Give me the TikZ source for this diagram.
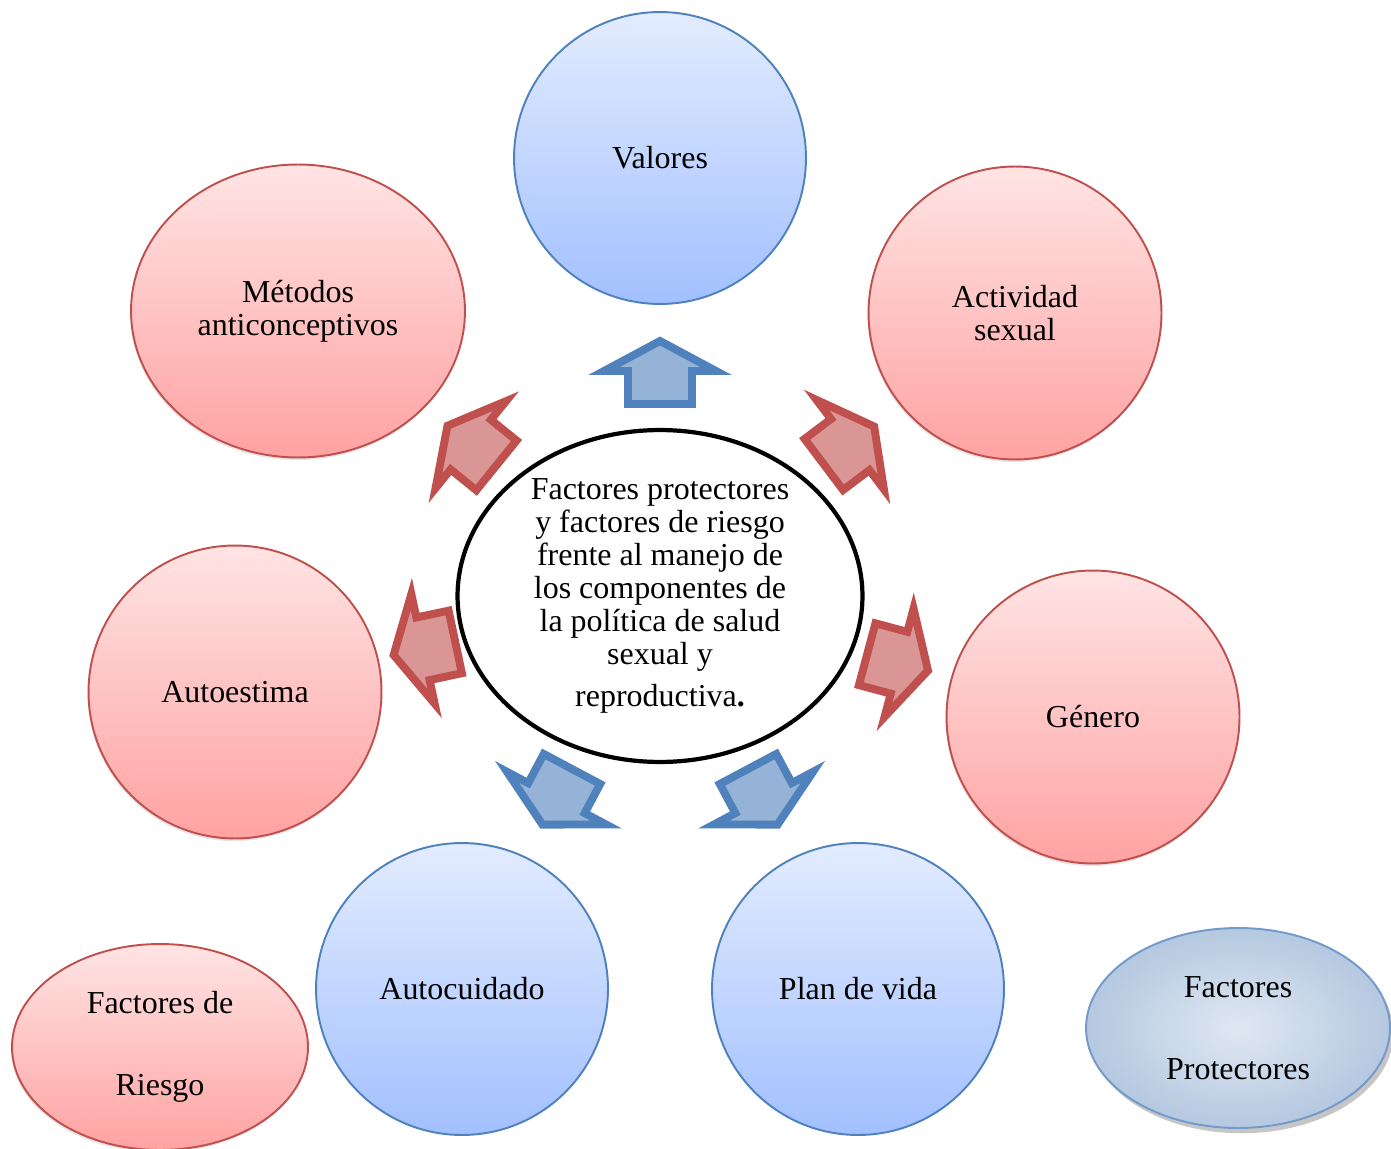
\documentclass[tikz,border=0pt]{standalone}
\usepackage{fontspec}
\setmainfont{Liberation Serif}
\usepackage{xcolor}
\usetikzlibrary{shapes.geometric, shadows}
\definecolor{azulborde}{HTML}{4F81BD}
\definecolor{azularriba}{HTML}{E3ECFF}
\definecolor{azulabajo}{HTML}{A2C0FF}
\definecolor{azulflecha}{HTML}{95B3D7}
\definecolor{rojoborde}{HTML}{C0504D}
\definecolor{rojoarriba}{HTML}{FFE4E4}
\definecolor{rojoabajo}{HTML}{FFA2A2}
\definecolor{rojoflecha}{HTML}{D99694}
\definecolor{grisclaro}{HTML}{E0E8F2}
\definecolor{grisazul}{HTML}{B4C8E0}
\tikzset{Mapa/.style = {% mapa de factores
     x=0.02cm, y=-0.02cm,
     font=\fontsize{18.2}{18.8}\selectfont,
     base/.style = {ellipse, draw, line width=1.1pt, align=center, inner sep=0pt},
  protector/.style = {base, draw=azulborde, top color=azularriba, bottom color=azulabajo,
                      minimum width=5.84cm, minimum height=5.84cm},
     riesgo/.style = {base, draw=rojoborde, top color=rojoarriba, bottom color=rojoabajo,
                      minimum width=5.86cm, minimum height=5.86cm,
                      drop shadow={opacity=0.2, shadow xshift=-0.5pt, shadow yshift=-1.5pt}},
     centro/.style = {base, draw=black, line width=2.4pt, fill=white,
                      minimum width=8.1cm, minimum height=6.3cm},
 flecharoja/.style = {draw=rojoborde, fill=rojoflecha, line width=4.5pt, line join=miter},
 flechaazul/.style = {draw=azulborde, fill=azulflecha, line width=4.5pt, line join=miter},
     bloque/.pic = {\draw[pic actions] (-34,-32) -- (-1,-32) -- (-1,-56) -- (29,0)
                       -- (-1,56) -- (-1,32) -- (-34,32) -- cycle;}}
        }

\begin{document}
\begin{tikzpicture}[Mapa]
\useasboundingbox (0,0) rectangle (1391,1148);

% nodes
\node (valores)     [protector] at (660,158) {Valores};
\node (metodos)     [riesgo, minimum width=6.68cm] at (298,311) {Métodos\\anticonceptivos};
\node (actividad)   [riesgo] at (1015,313) {Actividad\\sexual};
\node (autoestima)  [riesgo] at (235,692) {Autoestima};
\node (genero)      [riesgo] at (1093,717) {Género};
\node (autocuidado) [protector] at (462,989) {Autocuidado};
\node (plan)        [protector] at (858,989) {Plan de vida};
\node (centro)      [centro] at (660,596)
      {Factores protectores\\y factores de riesgo\\frente al manejo de\\los componentes de\\la política de salud\\sexual y\\[5pt]reproductiva\textbf{.}};

% leyenda
\node (leyriesgo) [riesgo, minimum width=5.92cm, minimum height=4.12cm] at (160,1047)
      {Factores de\\[0.98cm]Riesgo};
\node (leyprot)   [base, draw=azulborde!80, shading=radial, inner color=grisclaro, outer color=grisazul,
                   minimum width=6.08cm, minimum height=4cm,
                   drop shadow={opacity=0.45, shadow xshift=2pt, shadow yshift=-3pt}] at (1238,1028)
      {Factores\\[0.98cm]Protectores};

% flechas
\pic[flechaazul, rotate=90]  at (660,370) {bloque};
\pic[flecharoja, rotate=141] at (470,444) {bloque};
\pic[flecharoja, rotate=37]  at (851,444) {bloque};
\pic[flecharoja, rotate=192] at (422,649) {bloque};
\pic[flecharoja, rotate=-15] at (900,663) {bloque};
\pic[flechaazul, rotate=242] at (556,799) {bloque};
\pic[flechaazul, rotate=298] at (764,799) {bloque};

\end{tikzpicture}
\end{document}
